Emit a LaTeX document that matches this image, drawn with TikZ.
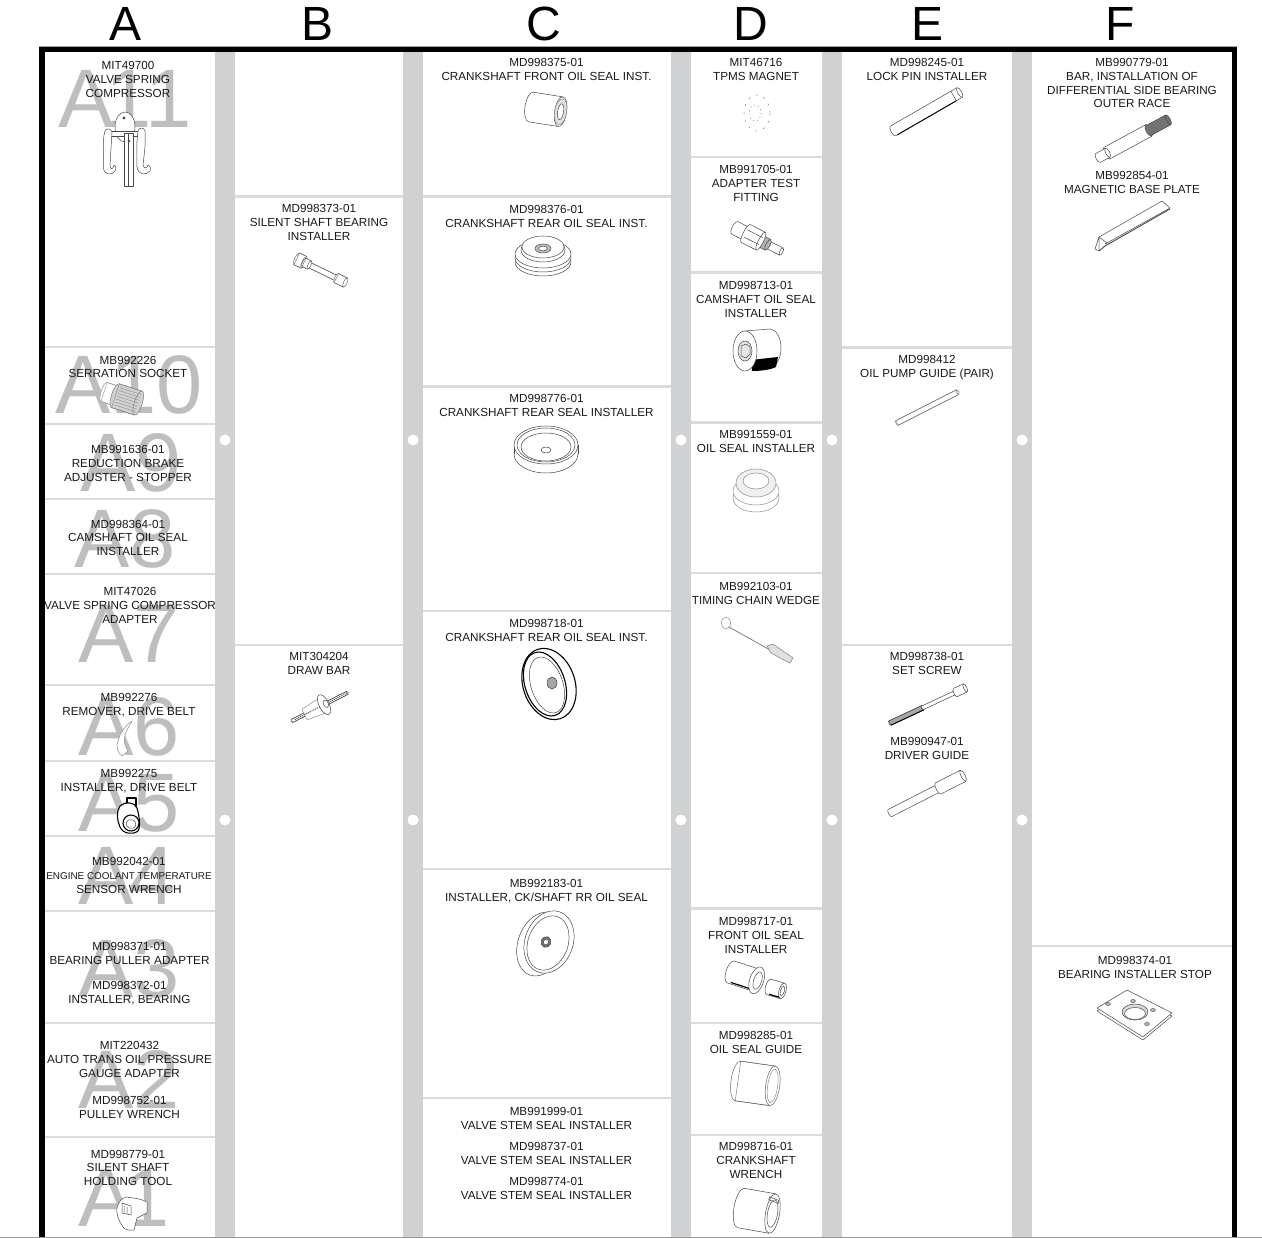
\documentclass[tikz,border=0pt]{standalone}
\usepackage{fontspec}
\setmainfont{Liberation Sans}
\definecolor{sepgray}{HTML}{CFD1D3}
\definecolor{divgray}{HTML}{D9DBDC}
\definecolor{wmgray}{HTML}{BCBEC0}
\definecolor{txt}{HTML}{1A1A1A}
\tikzset{
  lab/.style={anchor=north,inner sep=0pt,align=center,text=txt,font=\fontsize{11.7}{13.7}\selectfont},
  wm/.style={anchor=base west,inner sep=0pt,text=wmgray,font=\fontsize{83}{83}\selectfont},
  head/.style={anchor=base,inner sep=0pt,text=black,font=\fontsize{48}{48}\selectfont},
  tl/.style={draw=black!72,line width=.5pt,line join=round},
  tg/.style={draw=black!45,line width=.5pt,line join=round},
  tb/.style={draw=black,line width=1.1pt,line join=round},
  hole/.style={fill=white,draw=none}
}
\newcommand\toollabel[4]{\node[lab] (#1) at (#2,#3-3.7) {#4};}
\newcommand\wmark[4]{\node[wm] (#1) at (#2,#3) {#4};}
\newcommand\tubepart[5][]{%
  \path[tl,fill=white,#1] (#2,0) ellipse[x radius=#5,y radius=#4];
  \fill[white,#1] (#2,-#4) rectangle (#3,#4);
  \path[tl,#1] (#2,-#4) -- (#3,-#4) (#2,#4) -- (#3,#4);
  \path[tl,fill=white,#1] (#3,0) ellipse[x radius=#5,y radius=#4];
}
\begin{document}
\begin{tikzpicture}[x=1pt,y=-1pt]
\useasboundingbox (0,0) rectangle (1262,1238);
\fill[white] (0,0) rectangle (1262,1238);
% separators
\foreach \xa/\xb in {215/235,403/423,671/691,822/842,1012/1032}{
  \fill[sepgray] (\xa,52) rectangle (\xb,1237);
}
% row dividers
\foreach \xa/\xb/\ys in {
  45/215/{347,424,499,574,685,761,836,911,1023,1137},
  235/403/{196.5,645},
  423/671/{196.5,386.5,611,869,1098},
  691/822/{157,272.5,422.5,573,908.5,1023,1135},
  842/1012/{347.5,645},
  1032/1232/{946}}{
  \foreach \y in \ys {\fill[divgray] (\xa,\y-1.4) rectangle (\xb,\y+1.4);}
}
% holes
\foreach \x in {225,413,681,832,1022}{
  \foreach \y in {440,820}{\fill[white] (\x,\y) circle[radius=5.5];}
}
% watermarks
\wmark{w11}{58}{128}{A\kern-8pt 1\kern-6pt 1}
\wmark{w10}{55}{414}{A10}
\wmark{w9}{80}{492}{A9}
\wmark{w8}{74}{567}{A8}
\wmark{w7}{78}{662}{A7}
\wmark{w6}{78}{755}{A6}
\wmark{w5}{78}{831}{A5}
\wmark{w4}{78}{904}{A\kern-4pt 4}
\wmark{w3}{78}{997}{A3}
\wmark{w2}{78}{1108}{A2}
\wmark{w1}{78}{1226}{A\kern-10pt 1}
% frame
\fill[black!35] (39,46) rectangle (1237,47);
\fill[black!40] (0,1236.8) rectangle (1262,1238);
\fill[black] (39,47) rectangle (1237,52.5);
\fill[black] (39,47) rectangle (44.7,1237);
\fill[black] (1232,47) rectangle (1237,1237);
% column heads
\node[head] (hA) at (126,41) {A};
\node[head] (hB) at (317.5,41) {B};
\node[head] (hC) at (544,41) {C};
\node[head] (hD) at (750.5,41) {D};
\node[head] (hE) at (927,41) {E};
\node[head] (hF) at (1120,41) {F};
% tools, column A
% valve spring compressor
\draw[tl,fill=white] (125,127) ellipse[x radius=10,y radius=15];
\fill[black!70] (124,118) circle[radius=1.6];
\draw[tl,fill=white] (108,131) rectangle (143,136);
\draw[tl,fill=white] (105,131) .. controls (102,140) and (104,155) .. (103.5,168) .. controls (104,175) and (112,176) .. (115,171) .. controls (117,168) and (116,165) .. (114,165) .. controls (113,170) and (110,170) .. (110,165) -- (112,132) .. controls (111,128) and (106,128) .. (105,131) -- cycle;
\draw[tl,fill=white] (138,131) .. controls (136,145) and (137,160) .. (137,167) .. controls (138,175) and (146,176) .. (150,171) .. controls (151,168) and (150,165) .. (148,165) .. controls (147,169) and (144,169) .. (143,165) .. controls (144,155) and (146,145) .. (145,131) .. controls (144,127) and (139,127) .. (138,131) -- cycle;
\draw[tl,fill=white] (124,133) rectangle (133,186);
\draw[tl] (128,133) -- (128,186);
\fill[black!70] (129,141) circle[radius=1.4];
% serration socket
\begin{scope}[shift={(104,392)},rotate=-18]
  \tubepart[draw=black!40]{0}{14}{10}{3}
  \tubepart[draw=black!50,fill=black!18]{12}{36}{12.5}{4}
  \foreach \d in {-9,-6,-3,0,3,6,9}{\draw[black!45,line width=.4pt] (14,\d) -- (36,\d);}
\end{scope}
% remover
\draw[tg,fill=white] (132,721) .. controls (124,726) and (118,737) .. (117,745) .. controls (117,750) and (119,754) .. (122,756) -- (128,751) .. controls (125,746) and (123,741) .. (125,735) .. controls (126,731) and (129,727) .. (132,721) -- cycle;
% installer
\draw[tb,fill=white] (127,798) rectangle (136,806);
\draw[tb,fill=white] (120,806) .. controls (125,801) and (135,802) .. (137,808) .. controls (139,815) and (141,826) .. (138,831) .. controls (133,835) and (123,834) .. (120,827) .. controls (117,820) and (116,812) .. (120,806) -- cycle;
\draw[tb,fill=white,shift={(131,823)},rotate=-20] (0,0) ellipse[x radius=8,y radius=8];
\draw[tl,shift={(131,824)},rotate=-20] (0,0) ellipse[x radius=5,y radius=4.5];
% holding tool
\draw[tl,fill=white] (126,1197) .. controls (134,1198) and (142,1199) .. (147,1202) -- (147,1213) -- (137,1218) -- (134,1230) .. controls (128,1231) and (124,1229) .. (123,1227) .. controls (118,1220) and (116,1212) .. (117,1208) .. controls (118,1202) and (122,1198) .. (126,1197) -- cycle;
\draw[tl] (122,1203) -- (131,1206) -- (131,1215) -- (122,1213) -- cycle (124,1206) -- (124,1212) (127,1207) -- (127,1213);
% column B
\begin{scope}[shift={(295,258)},rotate=-26]
  \tubepart[draw=black!60]{12}{48}{2.8}{1}
  \tubepart[draw=black!60]{2}{10}{6.5}{2}
  \tubepart[draw=black!60]{10}{16}{4.5}{1.5}
  \tubepart[draw=black!60]{46}{56}{5}{1.8}
\end{scope}
\begin{scope}[shift={(292,721)},rotate=27]
  \tubepart[draw=black!70]{0}{62}{1.7}{1}
  \draw[black!70,line width=1pt,dash pattern=on 1pt off 1pt] (3,0) -- (60,0);
  \draw[tg,fill=white] (14,-6) -- (34,-8) -- (38,-4) -- (38,4) -- (34,8) -- (14,6) -- cycle;
  \draw[black!70,line width=1pt,dash pattern=on 1pt off 1pt] (14,0) -- (34,0);
  \draw[tl,fill=white] (36,0) ellipse[x radius=5,y radius=11];
  \draw[tl,fill=white] (38,0) ellipse[x radius=2.5,y radius=4];
\end{scope}
% column C
\begin{scope}[shift={(531,107)},rotate=-9]
  \tubepart{0}{30}{15}{6}
  \draw[tg,fill=black!12] (30,0) ellipse[x radius=6,y radius=13];
  \draw[tl,fill=white] (30,0) ellipse[x radius=3,y radius=8];
\end{scope}
% 376
\draw[tl,fill=white] (543,262) ellipse[x radius=28,y radius=14];
\draw[tl,fill=white] (543,258) ellipse[x radius=28,y radius=14];
\draw[tl,fill=white] (543,254) ellipse[x radius=28,y radius=14];
\draw[tl,fill=white] (543,250) ellipse[x radius=22,y radius=12];
\draw[tl,fill=white] (543,247) ellipse[x radius=21,y radius=11];
\draw[tl,fill=black!25] (543,248.5) ellipse[x radius=8,y radius=4.5];
\draw[tl,fill=white] (543,248.5) ellipse[x radius=4.5,y radius=2.4];
% 776
\draw[tl,fill=white] (546,454) ellipse[x radius=32,y radius=19];
\fill[white] (514,445) rectangle (578,454);
\draw[tl] (514,445) -- (514,454) (578,445) -- (578,454);
\draw[tl,fill=white] (546,445) ellipse[x radius=32,y radius=19];
\draw[tl] (546,445) ellipse[x radius=29,y radius=17];
\draw[tl] (546,447) ellipse[x radius=25,y radius=14];
\draw[tl] (546,450) ellipse[x radius=5,y radius=3];
% 718
\draw[tb,fill=white,shift={(549,684)},rotate=18] (0,0) ellipse[x radius=26,y radius=36.5];
\draw[tb,shift={(545,684)},rotate=18] (0,0) ellipse[x radius=20,y radius=33];
\draw[tl,shift={(547,685)},rotate=18] (0,0) ellipse[x radius=16,y radius=29];
\draw[tl,fill=black!35] (552,683) ellipse[x radius=5,y radius=6];
% 183
\draw[tl,fill=white,shift={(541,944)},rotate=-20] (0,0) ellipse[x radius=23,y radius=33];
\draw[tl,fill=white,shift={(549,942)},rotate=-20] (0,0) ellipse[x radius=24,y radius=32];
\draw[tl,shift={(548,943)},rotate=-20] (0,0) ellipse[x radius=20,y radius=28];
\draw[tl,fill=black!55,shift={(546,942)},rotate=-20] (0,0) ellipse[x radius=5,y radius=5.5];
\draw[tl,fill=white,shift={(546,942)},rotate=-20] (0,0) ellipse[x radius=2.5,y radius=3];
% column D
\draw[black!60,line width=.4pt,dash pattern=on 2pt off 6pt] (757,113) ellipse[x radius=13,y radius=18];
\draw[black!60,line width=.4pt,dash pattern=on 1pt off 3pt] (755,113) ellipse[x radius=6,y radius=8];
% adapter test fitting
\begin{scope}[shift={(735,228)},rotate=-27]
  \tubepart{36}{52}{4}{1.6}
  \tubepart[fill=black!30]{28}{37}{6}{2}
  \tubepart{0}{14}{7}{3}
  \tubepart{12}{29}{10}{2.5}
  \draw[tl] (12,-4) -- (29,-4) (12,4) -- (29,4);
\end{scope}
% 713
\draw[tl,fill=white] (770,348) ellipse[x radius=11,y radius=19];
\fill[white] (745,331) -- (770,329) -- (770,367) -- (745,371) -- cycle;
\draw[tl] (745,331) -- (770,329);
\fill[black] (751,360) -- (778,357) -- (776,367) .. controls (770,370) and (760,371) .. (752,371) -- cycle;
\draw[tl,fill=white] (745,351) ellipse[x radius=12,y radius=20];
\draw[tl,fill=black!10] (745,351) ellipse[x radius=7,y radius=10];
\draw[tl] (741,346) -- (746,344) -- (750,347) -- (750,354) -- (746,358) -- (741,356) -- cycle;
% 559
\draw[tg,fill=white] (756,498) ellipse[x radius=23,y radius=14];
\draw[tg,fill=white] (756,491) ellipse[x radius=23,y radius=14];
\draw[tg,fill=black!6] (756,483) ellipse[x radius=20,y radius=14];
\draw[tg,fill=white] (756,481) ellipse[x radius=13,y radius=8];
% timing chain wedge
\draw[tg,fill=white] (726,623) ellipse[x radius=4.5,y radius=6];
\path[draw=black!50,line width=.8pt] (729,627) -- (770,650);
\path[draw=black!50,fill=black!12,line width=.5pt] (767,646) -- (773,644) -- (793,658) -- (790,663) -- (782,659) -- (771,653) -- cycle;
% 717
\begin{scope}[shift={(731,972)},rotate=-18]
  \tubepart{0}{27}{11.5}{5}
  \draw[black,line width=1.2pt] (3,10) -- (25,10);
  \draw[tl,fill=white] (27,0) ellipse[x radius=7,y radius=14];
  \draw[tl,fill=white] (28,0) ellipse[x radius=4,y radius=9];
\end{scope}
\begin{scope}[shift={(769,987)},rotate=-16]
  \tubepart{0}{14}{8}{3.5}
  \draw[black,line width=1.2pt] (2,7) -- (13,7);
  \draw[tl,fill=white] (14,0) ellipse[x radius=2,y radius=5];
\end{scope}
% 285
\begin{scope}[shift={(738,1081)},rotate=-8]
  \tubepart[draw=black!60]{0}{35}{20}{7}
  \draw[tg] (35,0) ellipse[x radius=5,y radius=17];
\end{scope}
% 716
\begin{scope}[shift={(741,1208)},rotate=-10]
  \tubepart{0}{32}{20}{7}
  \draw[tl] (32,0) ellipse[x radius=5,y radius=14];
  \draw[tl] (26,-16) -- (36,-14) -- (36,-11) -- (26,-13) -- cycle;
\end{scope}
% column E
\begin{scope}[shift={(893,131)},rotate=30]
  \tubepart{0}{77}{5.5}{2}
  \draw[black,line width=.9pt] (2,5.5) -- (70,5.5);
  \draw[tl] (70,-5.5) -- (70,5.5);
\end{scope}
\begin{scope}[shift={(897,423)},rotate=27]
  \tubepart[draw=black!55]{0}{68}{2.6}{1}
\end{scope}
\begin{scope}[shift={(890,723)},rotate=25]
  \tubepart[draw=black!70,fill=black!35]{0}{36}{2.4}{1}
  \tubepart{36}{72}{2}{.8}
  \tubepart{72}{83}{4.5}{1.6}
  \draw[black,line width=.9pt] (0,2.4) -- (36,2.4);
\end{scope}
\begin{scope}[shift={(890,813)},rotate=27]
  \tubepart{0}{56}{4}{1.6}
  \tubepart{54}{82}{6.2}{2}
\end{scope}
% column F
\begin{scope}[shift={(1098,158)},rotate=28.5]
  \tubepart{10}{58}{6.5}{2.2}
  \tubepart{0}{11}{5}{2}
  \tubepart[fill=black!55]{57}{80}{5.5}{2}
\end{scope}
\draw[tl,fill=white] (1095,249) -- (1099,237) -- (1099,251) -- cycle;
\draw[tl,fill=white] (1099,237) -- (1162,201) -- (1170,208) -- (1107,243) -- cycle;
\draw[tl,line width=.9pt] (1099,251) -- (1105,246) -- (1170,209);
\draw[tl] (1105,243) -- (1107,243);
% stop plate
\draw[tl,fill=white] (1097,1011) -- (1127,993) -- (1172,1016) -- (1143,1040) -- cycle;
\draw[tl,fill=white] (1097,1008) -- (1127,990) -- (1172,1013) -- (1143,1037) -- cycle;
\draw[tl,fill=black!15] (1135,1012) ellipse[x radius=13,y radius=8];
\draw[tl,fill=white] (1135,1013.5) ellipse[x radius=10.5,y radius=6];
\foreach \x/\y in {1108/1004,1133/1001,1153/1010,1147/1024}{
  \draw[tl,fill=black!25] (\x,\y) ellipse[x radius=2.4,y radius=1.5];
}
% labels A
\toollabel{a1}{128}{65}{MIT49700\\VALVE SPRING\\COMPRESSOR}
\toollabel{a2}{128}{359.5}{MB992226\\SERRATION SOCKET}
\toollabel{a3}{128}{449}{MB991636-01\\REDUCTION BRAKE\\ADJUSTER - STOPPER}
\toollabel{a4}{128}{523.5}{MD998364-01\\CAMSHAFT OIL SEAL\\INSTALLER}
\toollabel{a5}{130}{591}{MIT47026\\VALVE SPRING COMPRESSOR\\ADAPTER}
\toollabel{a6}{129}{697}{MB992276\\REMOVER, DRIVE BELT}
\toollabel{a7}{129}{773}{MB992275\\INSTALLER, DRIVE BELT}
\toollabel{a8}{129}{861}{MB992042-01\\{\fontsize{9.9}{13.7}\selectfont ENGINE COOLANT TEMPERATURE}\\SENSOR WRENCH}
\toollabel{a9}{129.5}{946}{MD998371-01\\BEARING PULLER ADAPTER}
\toollabel{a10}{129.5}{985}{MD998372-01\\INSTALLER, BEARING}
\toollabel{a11}{129.5}{1045}{MIT220432\\AUTO TRANS OIL PRESSURE\\GAUGE ADAPTER}
\toollabel{a12}{129.5}{1100}{MD998752-01\\PULLEY WRENCH}
\toollabel{a13}{128}{1153.5}{MD998779-01\\SILENT SHAFT\\HOLDING TOOL}
% labels B
\toollabel{b1}{319}{208}{MD998373-01\\SILENT SHAFT BEARING\\INSTALLER}
\toollabel{b2}{319}{656}{MIT304204\\DRAW BAR}
% labels C
\toollabel{c1}{546.5}{62}{MD998375-01\\CRANKSHAFT FRONT OIL SEAL INST.}
\toollabel{c2}{546.5}{209}{MD998376-01\\CRANKSHAFT REAR OIL SEAL INST.}
\toollabel{c3}{546.5}{398}{MD998776-01\\CRANKSHAFT REAR SEAL INSTALLER}
\toollabel{c4}{546.5}{623}{MD998718-01\\CRANKSHAFT REAR OIL SEAL INST.}
\toollabel{c5}{546.5}{883}{MB992183-01\\INSTALLER, CK/SHAFT RR OIL SEAL}
\toollabel{c6}{546.5}{1111}{MB991999-01\\VALVE STEM SEAL INSTALLER}
\toollabel{c7}{546.5}{1146}{MD998737-01\\VALVE STEM SEAL INSTALLER}
\toollabel{c8}{546.5}{1181}{MD998774-01\\VALVE STEM SEAL INSTALLER}
% labels D
\toollabel{d1}{756}{62}{MIT46716\\TPMS MAGNET}
\toollabel{d2}{756}{169}{MB991705-01\\ADAPTER TEST\\FITTING}
\toollabel{d3}{756}{285}{MD998713-01\\CAMSHAFT OIL SEAL\\INSTALLER}
\toollabel{d4}{756}{434}{MB991559-01\\OIL SEAL INSTALLER}
\toollabel{d5}{756}{586}{MB992103-01\\TIMING CHAIN WEDGE}
\toollabel{d6}{756}{921}{MD998717-01\\FRONT OIL SEAL\\INSTALLER}
\toollabel{d7}{756}{1035}{MD998285-01\\OIL SEAL GUIDE}
\toollabel{d8}{756}{1146}{MD998716-01\\CRANKSHAFT\\WRENCH}
% labels E
\toollabel{e1}{927}{62}{MD998245-01\\LOCK PIN INSTALLER}
\toollabel{e2}{927}{359}{MD998412\\OIL PUMP GUIDE (PAIR)}
\toollabel{e3}{927}{656}{MD998738-01\\SET SCREW}
\toollabel{e4}{927}{741}{MB990947-01\\DRIVER GUIDE}
% labels F
\toollabel{f1}{1132}{62}{MB990779-01\\BAR, INSTALLATION OF\\DIFFERENTIAL SIDE BEARING\\OUTER RACE}
\toollabel{f2}{1132}{175}{MB992854-01\\MAGNETIC BASE PLATE}
\toollabel{f3}{1135}{960}{MD998374-01\\BEARING INSTALLER STOP}
\end{tikzpicture}
\end{document}
